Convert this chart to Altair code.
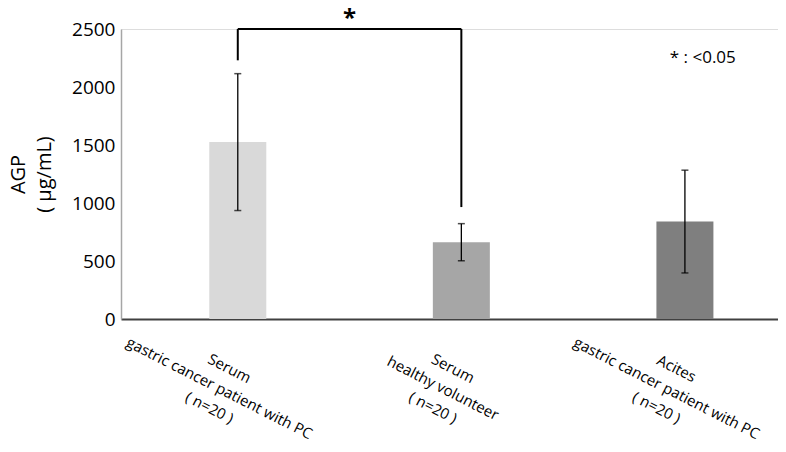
import altair as alt
import pandas as pd

# ---- data ----
groups = ["Serum\ngastric cancer patient with PC\n( n=20 )",
          "Serum\nhealthy volunteer\n( n=20 )",
          "Acites\ngastric cancer patient with PC\n( n=20 )"]
idx = [0, 1, 2]
means = [1525, 662, 840]
sds = [590, 160, 443]
colors = ["#d9d9d9", "#a6a6a6", "#7f7f7f"]

y_ticks = [0, 500, 1000, 1500, 2000, 2500]

# significance bracket between group 0 and group 1
sig_pair = [0, 1]
sig_top = 2500
sig_ends = [2230, 965]
sig_star_y = 2530
note_text = "* : <0.05"
note_pos = [2.08, 2250]

df = pd.DataFrame({
    "idx": idx,
    "group": groups,
    "mean": means,
    "lo": [m - s for m, s in zip(means, sds)],
    "hi": [m + s for m, s in zip(means, sds)],
    "color": colors,
    "label": [g.split("\n") for g in groups],
})

font = "Open Sans"
W, H = 657, 290

xscale = alt.Scale(domain=[-0.5, 2.394], nice=False, zero=False)
yscale = alt.Scale(domain=[0, 2500], nice=False)

base = alt.Chart(df)

bars = base.mark_bar(size=57).encode(
    x=alt.X("idx:Q", scale=xscale,
            axis=alt.Axis(labels=False, ticks=False, grid=False, title=None,
                          domainColor="#404040", domainWidth=2)),
    y=alt.Y("mean:Q", scale=yscale,
            axis=alt.Axis(values=y_ticks, format="d", ticks=False, grid=False,
                          domainColor="#a6a6a6", domainWidth=1.5,
                          labelFont=font, labelFontSize=19, labelColor="#000",
                          labelPadding=6,
                          title=["AGP", "( µg/mL)"], titleFont=font,
                          titleFontSize=20, titleFontWeight="normal",
                          titleColor="#000", titleLineHeight=26,
                          titleAngle=-90, titleAlign="center",
                          titleBaseline="bottom", titleX=-93, titleY=145)),
    color=alt.Color("color:N", scale=None),
)

err = base.mark_rule(color="black", strokeWidth=1.3).encode(
    x="idx:Q", y="lo:Q", y2="hi:Q")
caps_hi = base.mark_tick(color="black", size=7, thickness=1.5, orient="horizontal").encode(
    x="idx:Q", y="hi:Q")
caps_lo = base.mark_tick(color="black", size=7, thickness=1.5, orient="horizontal").encode(
    x="idx:Q", y="lo:Q")

labels = base.mark_text(font=font, fontSize=15, lineHeight=22, align="center",
                        baseline="top", angle=27, dx=15, dy=41, color="#000").encode(
    x="idx:Q", y=alt.datum(0), text="label")

br_h = alt.Chart(pd.DataFrame({"a": [sig_pair[0]], "b": [sig_pair[1]], "y": [sig_top]})).mark_rule(
    color="black", strokeWidth=2).encode(x="a:Q", x2="b:Q", y="y:Q")
br_v = alt.Chart(pd.DataFrame({"x": sig_pair, "top": [sig_top] * 2, "end": sig_ends})).mark_rule(
    color="black", strokeWidth=2).encode(x="x:Q", y="top:Q", y2="end:Q")
star = alt.Chart(pd.DataFrame({"x": [sum(sig_pair) / 2], "y": [sig_star_y], "t": ["*"]})).mark_text(
    font=font, fontSize=24, fontWeight="bold", color="#000", baseline="alphabetic").encode(
    x="x:Q", y="y:Q", text="t:N")
note = alt.Chart(pd.DataFrame({"x": [note_pos[0]], "y": [note_pos[1]], "t": [note_text]})).mark_text(
    font=font, fontSize=17, color="#000", baseline="middle").encode(
    x="x:Q", y="y:Q", text="t:N")

chart = alt.layer(bars, err, caps_hi, caps_lo, labels, br_h, br_v, star, note).properties(
    width=W, height=H,
    autosize=alt.AutoSizeParams(type="none"),
    padding={"left": 113, "top": 21, "right": 0, "bottom": 125},
).configure_view(stroke=None).configure(background="white")

chart.save("out.html", embed_options={"renderer": "svg", "actions": False})
